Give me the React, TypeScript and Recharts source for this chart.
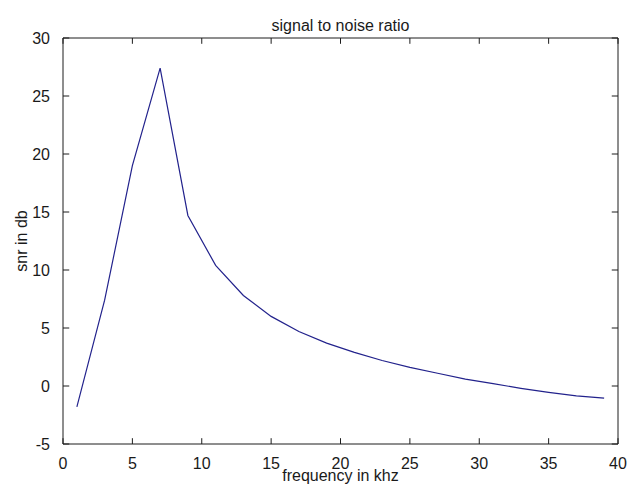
import { LineChart, Line, XAxis, YAxis, ReferenceLine } from 'recharts'

// values (frequency in kHz, snr in dB)
const freqKhz = [1, 3, 5, 7, 9, 11, 13, 15, 17, 19, 21, 23, 25, 27, 29, 31, 33, 35, 37, 39]
const snrDb = [
  -1.8, 7.4, 19.0, 27.4, 14.7, 10.4, 7.8, 6.0, 4.7, 3.7, 2.9, 2.2, 1.6, 1.1, 0.6, 0.2, -0.2, -0.55,
  -0.85, -1.05,
]
const xTicks = [0, 5, 10, 15, 20, 25, 30, 35, 40]
const yTicks = [-5, 0, 5, 10, 15, 20, 25, 30]

const data = freqKhz.map((f, i) => ({ f, snr: snrDb[i] }))

const X_MIN = 0
const X_MAX = 40
const Y_MIN = -5
const Y_MAX = 30
// inward tick length, in data units (about 6px each way)
const X_TICK = 0.45
const Y_TICK = 0.5

const FONT = '"Liberation Sans", Arial, sans-serif'
const AXIS = '#1c1c1c'
const tickStyle = { fontSize: 16, fill: '#1a1a1a', fontFamily: FONT }

export default function App() {
  return (
    <div
      style={{
        position: 'absolute',
        left: 0,
        top: 0,
        width: 636,
        height: 486,
        background: '#fff',
        fontFamily: FONT,
        color: '#1a1a1a',
      }}
    >
      <div
        style={{
          position: 'absolute',
          left: 63,
          width: 555,
          top: 17,
          textAlign: 'center',
          fontSize: 16,
          lineHeight: '18px',
        }}
      >
        signal to noise ratio
      </div>
      <LineChart width={636} height={486} data={data} margin={{ top: 38, right: 18, bottom: 0, left: 0 }}>
        <XAxis
          dataKey="f"
          type="number"
          domain={[X_MIN, X_MAX]}
          ticks={xTicks}
          height={42}
          tickLine={false}
          tickMargin={8}
          stroke={AXIS}
          tick={tickStyle}
          interval={0}
        />
        <YAxis
          type="number"
          domain={[Y_MIN, Y_MAX]}
          ticks={yTicks}
          width={63}
          tickLine={false}
          tickMargin={7}
          stroke={AXIS}
          tick={tickStyle}
          interval={0}
        />
        {/* box top and right edges */}
        <ReferenceLine y={Y_MAX} stroke={AXIS} ifOverflow="extendDomain" />
        <ReferenceLine x={X_MAX} stroke={AXIS} ifOverflow="extendDomain" />
        {/* matlab-style ticks pointing into the box on all four sides */}
        {xTicks.map((t) => (
          <ReferenceLine
            key={`b${t}`}
            segment={[
              { x: t, y: Y_MIN },
              { x: t, y: Y_MIN + Y_TICK },
            ]}
            stroke={AXIS}
          />
        ))}
        {xTicks.map((t) => (
          <ReferenceLine
            key={`t${t}`}
            segment={[
              { x: t, y: Y_MAX },
              { x: t, y: Y_MAX - Y_TICK },
            ]}
            stroke={AXIS}
          />
        ))}
        {yTicks.map((t) => (
          <ReferenceLine
            key={`l${t}`}
            segment={[
              { x: X_MIN, y: t },
              { x: X_MIN + X_TICK, y: t },
            ]}
            stroke={AXIS}
          />
        ))}
        {yTicks.map((t) => (
          <ReferenceLine
            key={`r${t}`}
            segment={[
              { x: X_MAX, y: t },
              { x: X_MAX - X_TICK, y: t },
            ]}
            stroke={AXIS}
          />
        ))}
        <Line
          dataKey="snr"
          type="linear"
          stroke="#22228c"
          strokeWidth={1.2}
          dot={false}
          activeDot={false}
          isAnimationActive={false}
        />
      </LineChart>
      <div
        style={{
          position: 'absolute',
          left: 63,
          width: 555,
          top: 467,
          textAlign: 'center',
          fontSize: 16,
          lineHeight: '18px',
        }}
      >
        frequency in khz
      </div>
      <div
        style={{
          position: 'absolute',
          left: 22,
          top: 241,
          transform: 'translate(-50%, -50%) rotate(-90deg)',
          whiteSpace: 'nowrap',
          fontSize: 16,
          lineHeight: '18px',
        }}
      >
        snr in db
      </div>
    </div>
  )
}
